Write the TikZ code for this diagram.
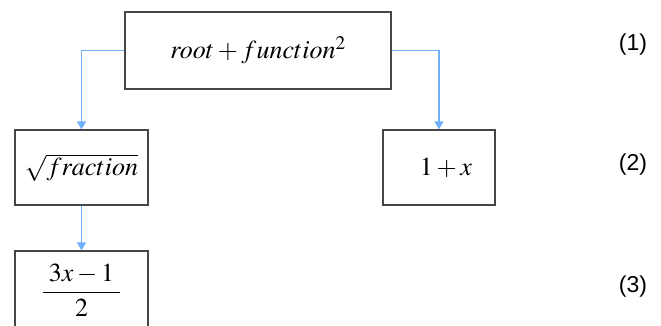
\documentclass[tikz,border=0pt]{standalone}
\usepackage{amsmath}
\usepackage{mathptmx}
\usepackage[no-math]{fontspec}
\newfontfamily\eqnofont{Liberation Sans}
\usetikzlibrary{arrows.meta}
\definecolor{linkblue}{RGB}{110,176,250}
\definecolor{boxgray}{RGB}{70,70,70}
\tikzset{
  box/.style={draw=boxgray, line width=1.2pt, inner sep=0pt,
    font=\fontsize{26}{31}\selectfont},
  link/.style={draw=linkblue, line width=1.2pt,
    -{Triangle[width=9pt,length=8pt]}},
  eqno/.style={font=\eqnofont\fontsize{23}{27}\selectfont}
}
\begin{document}
\begin{tikzpicture}[x=1pt,y=-1pt]
    \useasboundingbox (0,0) rectangle (661,325);
    \clip (0,0) rectangle (661,325);

    % top level
    \node[box, minimum width=266pt, minimum height=77pt] (root) at (258,50.5) {$root \mathbin{+} function^2$};

    % second level
    \node[box, minimum width=133pt, minimum height=75pt] (sqrt) at (81.5,167.5) {$\sqrt{fraction}$};
    \node[box, minimum width=112pt, minimum height=75pt] (onex) at (439,167.5) {\hspace{14pt}$1 + x$};

    % third level
    \node[box, minimum width=133pt, minimum height=79pt] (frac) at (81.5,290.5) {$\dfrac{\;3x-1\;}{2}$};

    % links
    \draw[link] (root.west) -| (sqrt.north);
    \draw[link] (root.east) -| (onex.north);
    \draw[link] (sqrt.south) -- (frac.north);

    % equation numbers
    \node[eqno] (n1) at (633,45) {(1)};
    \node[eqno] (n2) at (633,165) {(2)};
    \node[eqno] (n3) at (633,287) {(3)};
\end{tikzpicture}
\end{document}
